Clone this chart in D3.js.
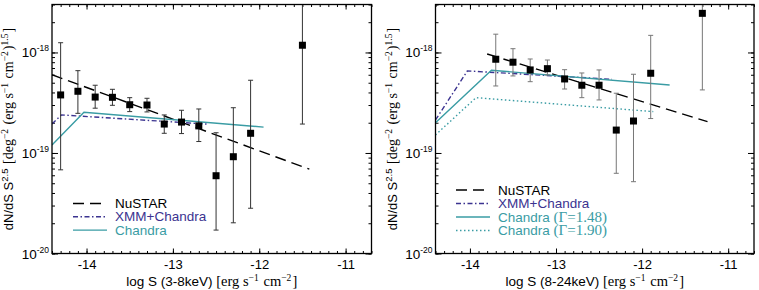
<!DOCTYPE html>
<html lang="en">
    <head>
        <meta charset="utf-8">
        <script src="https://cdn.jsdelivr.net/npm/d3@7"></script>
        <style type="text/css">
        body {
          margin: 0;
          font: 13px "Liberation Sans", Arial, sans-serif;
        }
        .serif {
          font-family: "Liberation Serif", "Times New Roman", serif;
        }
        </style>
    </head>
    <body>
        <script>
          // values (log S, dN/dS S^2.5 and error ends)
          var leftLogS = [-14.3, -14.1, -13.9, -13.7, -13.5, -13.3, -13.1, -12.9, -12.7, -12.5, -12.3, -12.1, -11.5];
          var leftVal  = [3.78e-19, 4.11e-19, 3.60e-19, 3.58e-19, 3.02e-19, 3.00e-19, 1.94e-19, 2.03e-19, 1.86e-19, 5.94e-20, 9.18e-20, 1.57e-19, 1.18e-18];
          var leftHi   = [1.25e-18, 6.59e-19, 4.72e-19, 4.30e-19, 3.55e-19, 3.50e-19, 2.39e-19, 2.66e-19, 2.74e-19, 1.59e-19, 2.82e-19, 5.29e-19, 5e-18];
          var leftLo   = [6.8e-20, 2.48e-19, 2.79e-19, 2.98e-19, 2.58e-19, 2.56e-19, 1.57e-19, 1.56e-19, 1.30e-19, 1.71e-20, 2.02e-20, 2.82e-20, 1.94e-19];

          var rightLogS = [-13.7, -13.5, -13.3, -13.1, -12.9, -12.7, -12.5, -12.3, -12.1, -11.9, -11.3];
          var rightVal  = [8.56e-19, 8.0e-19, 6.70e-19, 6.90e-19, 5.45e-19, 4.72e-19, 4.72e-19, 1.69e-19, 2.08e-19, 6.21e-19, 2.45e-18];
          var rightHi   = [1.52e-18, 1.09e-18, 8.61e-19, 8.41e-19, 6.74e-19, 6.25e-19, 6.70e-19, 3.93e-19, 6.07e-19, 1.48e-18, 5e-18];
          var rightLo   = [4.64e-19, 5.84e-19, 5.12e-19, 5.97e-19, 4.33e-19, 3.55e-19, 3.37e-19, 6.28e-20, 5.18e-20, 2.20e-19, 4.24e-19];

          // model curves (break points)
          var leftNustarS = [-14.4, -11.42];
          var leftNustarV = [6.0e-19, 6.9e-20];
          var leftXmmS = [-14.4, -14.29, -12.61];
          var leftXmmV = [1.94e-19, 2.39e-19, 1.94e-19];
          var leftChandraS = [-14.4, -14.03, -11.95];
          var leftChandraV = [1.2e-19, 2.54e-19, 1.81e-19];

          var rightNustarS = [-13.8, -11.24];
          var rightNustarV = [9.66e-19, 2.05e-19];
          var rightXmmS = [-14.4, -14.03, -12.35];
          var rightXmmV = [2.13e-19, 6.55e-19, 5.41e-19];
          var rightCh148S = [-14.4, -13.75, -11.68];
          var rightCh148V = [2.0e-19, 6.65e-19, 4.75e-19];
          var rightCh190S = [-14.4, -13.93, -11.87];
          var rightCh190V = [1.51e-19, 3.55e-19, 2.58e-19];

          var xTicks = [-14, -13, -12, -11];
          var yTicks = [1e-20, 1e-19, 1e-18];
          var yExp = ["-20", "-19", "-18"];

          var w = 759;
          var h = 290;
          var plotTop = 4.5;
          var plotBottom = 253.5;
          var black = "#000";
          var purple = "#3b3390";
          var teal = "#3a9ca4";

          var svg = d3.select("body")
                      .append("svg")
                      .attr("width", w)
                      .attr("height", h);

          var yScale = d3.scaleLog()
            .domain([1e-20, 3.0e-18])
            .range([plotBottom, plotTop]);

          // writes text made of pieces, some serif, some raised
          function richText(sel, parts, serifSize) {
            parts.forEach(function(p) {
              var t = sel.append("tspan").text(p.t);
              if (p.serif) t.attr("class", "serif").attr("font-size", serifSize);
              if (p.sup) {
                t.attr("dy", -5).attr("font-size", 9.5);
                sel.append("tspan").attr("dy", 5).text("\u200a");
              }
            });
          }

          function drawPanel(id, x0, x1, pts, curves, legend, titleParts) {
            var xScale = d3.scaleLinear()
              .domain([-14.4, -10.7])
              .range([x0, x1]);

            var g = svg.append("g");

            g.append("clipPath").attr("id", "clip" + id)
              .append("rect")
              .attr("x", x0).attr("y", plotTop)
              .attr("width", x1 - x0).attr("height", plotBottom - plotTop);

            var minorX = d3.range(-144, -106).map(function(d) { return d / 10; });

            // ticks on all four sides, pointing inward
            function xAx(axisFn, y, vals, size) {
              var a = g.append("g")
                .attr("transform", "translate(0," + y + ")")
                .call(axisFn(xScale).tickValues(vals).tickSize(-size).tickFormat(""));
              a.select(".domain").remove();
              return a;
            }
            xAx(d3.axisBottom, plotBottom, minorX, 2.5);
            xAx(d3.axisTop, plotTop, minorX, 2.5);
            xAx(d3.axisTop, plotTop, xTicks, 5);
            var xb = g.append("g")
              .attr("transform", "translate(0," + plotBottom + ")")
              .call(d3.axisBottom(xScale).tickValues(xTicks).tickSize(-5).tickPadding(6)
                .tickFormat(function(d) { return d; }));
            xb.select(".domain").remove();
            xb.selectAll("text").attr("font-size", 13).attr("font-family", "Liberation Sans, Arial, sans-serif");

            function yAx(axisFn, x, vals, size) {
              var a = g.append("g")
                .attr("transform", "translate(" + x + ",0)")
                .call(axisFn(yScale).tickValues(vals).tickSize(-size).tickFormat(""));
              a.select(".domain").remove();
            }
            yAx(d3.axisLeft, x0, yScale.ticks(), 3);
            yAx(d3.axisRight, x1, yScale.ticks(), 3);
            yAx(d3.axisLeft, x0, yTicks, 6);
            yAx(d3.axisRight, x1, yTicks, 6);

            g.selectAll(".ylab")
              .data(yTicks)
              .enter()
              .append("text")
              .attr("class", "ylab")
              .attr("x", x0 - 3)
              .attr("y", function(d) { return yScale(d) + 5; })
              .attr("text-anchor", "end")
              .attr("font-size", 13.5)
              .each(function(d, i) {
                var t = d3.select(this);
                t.append("tspan").text("10");
                t.append("tspan").attr("dy", -6).attr("font-size", 8.5).text(yExp[i]);
              });

            // model lines
            var line = d3.line()
              .x(function(d) { return xScale(d[0]); })
              .y(function(d) { return yScale(d[1]); });
            var lines = g.append("g").attr("clip-path", "url(#clip" + id + ")");
            curves.forEach(function(c) {
              lines.append("path")
                .attr("d", line(d3.zip(c.s, c.v)))
                .attr("fill", "none")
                .attr("stroke", c.color)
                .attr("stroke-width", 1.4)
                .attr("stroke-dasharray", c.dash);
            });

            // error bars and points
            var pg = g.append("g").attr("clip-path", "url(#clip" + id + ")");
            var idx = d3.range(pts.s.length);
            pg.selectAll(".err")
              .data(idx)
              .enter()
              .append("line")
              .attr("x1", function(i) { return xScale(pts.s[i]); })
              .attr("x2", function(i) { return xScale(pts.s[i]); })
              .attr("y1", function(i) { return yScale(pts.lo[i]); })
              .attr("y2", function(i) { return yScale(pts.hi[i]); })
              .attr("stroke", pts.ecolor)
              .attr("stroke-width", 1);
            ["lo", "hi"].forEach(function(k) {
              pg.selectAll(".cap" + k)
                .data(idx)
                .enter()
                .append("line")
                .attr("x1", function(i) { return xScale(pts.s[i]) - 2.5; })
                .attr("x2", function(i) { return xScale(pts.s[i]) + 2.5; })
                .attr("y1", function(i) { return yScale(pts[k][i]); })
                .attr("y2", function(i) { return yScale(pts[k][i]); })
                .attr("stroke", pts.ecolor)
                .attr("stroke-width", 1);
            });
            pg.selectAll(".pt")
              .data(idx)
              .enter()
              .append("rect")
              .attr("x", function(i) { return xScale(pts.s[i]) - 3.5; })
              .attr("y", function(i) { return yScale(pts.v[i]) - 3.5; })
              .attr("width", 7)
              .attr("height", 7)
              .attr("fill", "#000");

            // frame
            g.append("rect")
              .attr("x", x0).attr("y", plotTop)
              .attr("width", x1 - x0).attr("height", plotBottom - plotTop)
              .attr("fill", "none")
              .attr("stroke", "#000")
              .attr("stroke-width", 1.3);

            // legend
            legend.items.forEach(function(it, i) {
              var y = legend.y + i * legend.step;
              g.append("line")
                .attr("x1", legend.x).attr("x2", legend.x + 34)
                .attr("y1", y).attr("y2", y)
                .attr("stroke", it.color)
                .attr("stroke-width", 1.4)
                .attr("stroke-dasharray", it.dash);
              var t = g.append("text")
                .attr("x", legend.x + 42)
                .attr("y", y + 4.5)
                .attr("font-size", 13.5)
                .attr("fill", it.color);
              richText(t, it.parts, 15);
            });

            // axis titles
            var xt = g.append("text")
              .attr("x", (x0 + x1) / 2)
              .attr("y", 286)
              .attr("text-anchor", "middle")
              .attr("font-size", 13.5);
            richText(xt, titleParts, 14.5);

            var yt = g.append("text")
              .attr("transform", "translate(" + (x0 - 39) + "," + (plotTop + plotBottom) / 2 + ") rotate(-90)")
              .attr("text-anchor", "middle")
              .attr("font-size", 13);
            richText(yt, [
              {t: "dN/dS S"}, {t: "2.5", sup: true}, {t: " [deg", serif: true}, {t: "\u22122", sup: true, serif: true},
              {t: " (erg s", serif: true}, {t: "\u22121", sup: true, serif: true}, {t: " cm", serif: true},
              {t: "\u22122", sup: true, serif: true}, {t: ")", serif: true}, {t: "1.5", sup: true, serif: true},
              {t: "]", serif: true}
            ], 14);
          }

          var dashN = "11,6";
          var dashX = "5,2.5,1.5,2.5";
          var dashD = "1.5,2.5";

          drawPanel("L", 52, 371.5,
            {s: leftLogS, v: leftVal, hi: leftHi, lo: leftLo, ecolor: "#333"},
            [
              {s: leftNustarS, v: leftNustarV, color: black, dash: dashN},
              {s: leftXmmS, v: leftXmmV, color: purple, dash: dashX},
              {s: leftChandraS, v: leftChandraV, color: teal, dash: null}
            ],
            {x: 73, y: 203.5, step: 13.3, items: [
              {color: black, dash: dashN, parts: [{t: "NuSTAR"}]},
              {color: purple, dash: dashX, parts: [{t: "XMM+Chandra"}]},
              {color: teal, dash: null, parts: [{t: "Chandra"}]}
            ]},
            [{t: "log S (3-8keV) "}, {t: "[erg s", serif: true}, {t: "\u22121", sup: true, serif: true},
             {t: " cm", serif: true}, {t: "\u22122", sup: true, serif: true}, {t: "]", serif: true}]
          );

          drawPanel("R", 435.5, 754,
            {s: rightLogS, v: rightVal, hi: rightHi, lo: rightLo, ecolor: "#777"},
            [
              {s: rightNustarS, v: rightNustarV, color: black, dash: dashN},
              {s: rightXmmS, v: rightXmmV, color: purple, dash: dashX},
              {s: rightCh148S, v: rightCh148V, color: teal, dash: null},
              {s: rightCh190S, v: rightCh190V, color: teal, dash: dashD}
            ],
            {x: 456, y: 190, step: 13.5, items: [
              {color: black, dash: dashN, parts: [{t: "NuSTAR"}]},
              {color: purple, dash: dashX, parts: [{t: "XMM+Chandra"}]},
              {color: teal, dash: null, parts: [{t: "Chandra "}, {t: "(\u0393=1.48)", serif: true}]},
              {color: teal, dash: dashD, parts: [{t: "Chandra "}, {t: "(\u0393=1.90)", serif: true}]}
            ]},
            [{t: "log S (8-24keV) "}, {t: "[erg s", serif: true}, {t: "\u22121", sup: true, serif: true},
             {t: " cm", serif: true}, {t: "\u22122", sup: true, serif: true}, {t: "]", serif: true}]
          );
        </script>
    </body>
</html>
